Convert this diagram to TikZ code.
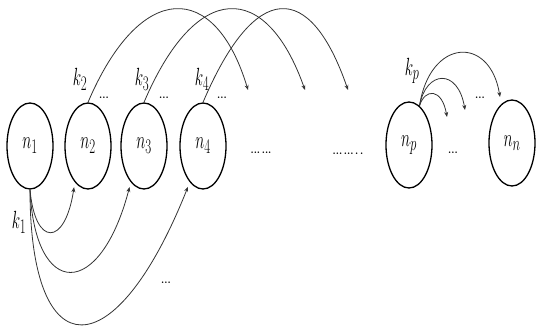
\documentclass[tikz,border=0pt]{standalone}
\usepackage{amsmath, amssymb}
\usepackage{graphicx}
\usetikzlibrary{arrows.meta, shapes.geometric}

\newcommand{\tall}[1]{\scalebox{0.62}[1]{$#1$}}

\tikzset{
  cell/.style={ellipse, draw, line width=1.3pt, minimum width=46pt,
    minimum height=86pt, inner sep=0pt, font=\fontsize{32}{32}\selectfont},
  klab/.style={font=\fontsize{30}{30}\selectfont},
  dts/.style={font=\bfseries\normalsize, inner sep=0pt},
  hop/.style={draw=black!80, line width=0.8pt, -{Stealth[length=5pt, width=4pt]}}
}

\begin{document}
\begin{tikzpicture}[x=1pt,y=-1pt]
  \useasboundingbox (0,0) rectangle (536,329);
  \foreach \p/\n in {30/1, 88/2, 144/3, 203/4}
    {\node[cell] (n\n) at (\p,146) {\tall{n_{\n}}};}
  \node[cell] (np) at (409,145) {\tall{n_p}};
  \node[cell] (nn) at (512,143) {\tall{n_n}};
  \foreach \x/\n in {80/2, 142/3, 202/4}
    {\node[klab] (k\n) at (\x,79) {\tall{k_{\n}}};}
  \node[klab] (kp) at (412,71) {\tall{k_p}};
  \node[klab] (k1) at (19,222) {\tall{k_1}};
  \foreach \x/\y in {104/98, 164/98, 222/98, 480/98, 453/153, 166/283}
    {\node[dts] at (\x,\y) {...};}
  \node[dts] at (261,153) {...\,...};
  \node[dts] at (348,154) {...\,...\,.\,.};
  \coordinate (t2) at (248,90);
  \coordinate (t3) at (305,90);
  \coordinate (t4) at (348,90);
  \coordinate (tp1) at (500,97);
  \coordinate (tp2) at (465,110);
  \coordinate (tp3) at (447,117);
  \draw[hop] (n2.north) .. controls (140,-20) and (215,-20) .. (t2);
  \draw[hop] (n3.north) .. controls (196,-20) and (266,-20) .. (t3);
  \draw[hop] (n4.north) .. controls (255,-20) and (310,-20) .. (t4);
  \draw[hop] (np.75) .. controls (430,38) and (490,35) .. (tp1);
  \draw[hop] (np.75) .. controls (426,70) and (458,68) .. (tp2);
  \draw[hop] (np.75) .. controls (425,88) and (442,88) .. (tp3);
  \draw[hop, shorten >=5pt] (n1.south) .. controls (35,247) and (65,247) .. (n2.250);
  \draw[hop, shorten >=5pt] (n1.south) .. controls (35,300) and (100,300) .. (n3.250);
  \draw[hop, shorten >=5pt] (n1.south) .. controls (30,370) and (115,370) .. (n4.250);
\end{tikzpicture}
\end{document}
